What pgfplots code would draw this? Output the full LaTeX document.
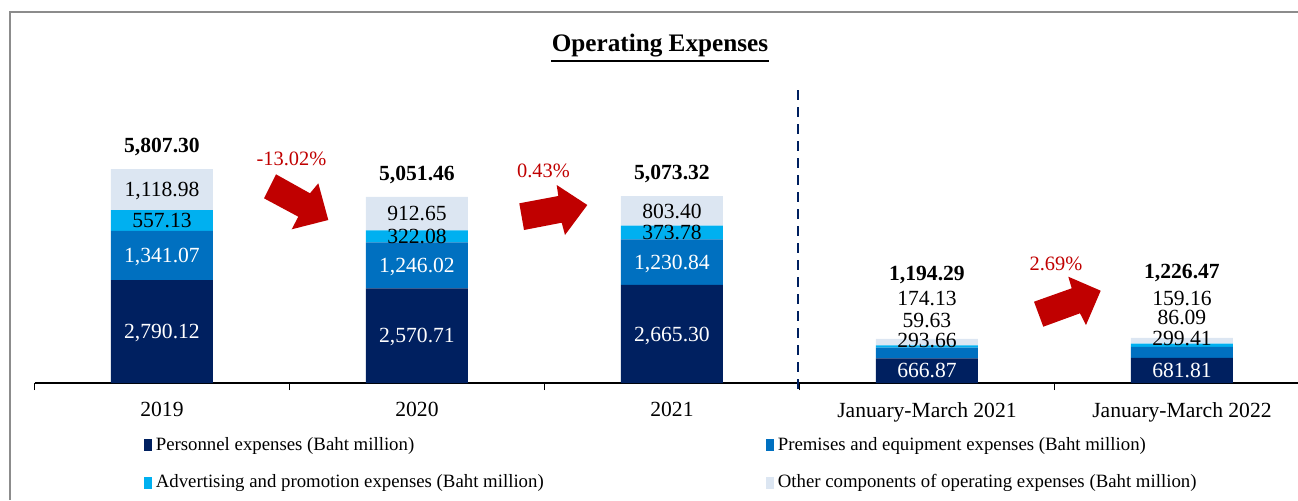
\documentclass[border=0pt]{standalone}
\usepackage{fontspec}
\setmainfont{Liberation Serif}
\usepackage{pgfplots}
\pgfplotsset{compat=1.18}
\definecolor{navy}{HTML}{002060}
\definecolor{midblue}{HTML}{0070C0}
\definecolor{cyanb}{HTML}{00B0F0}
\definecolor{lightb}{HTML}{DCE6F2}
\definecolor{redarr}{HTML}{C00000}
\definecolor{framegray}{HTML}{8C8C8C}
\newcommand{\lbl}[4]{\node[font=\fontsize{10.8pt}{12pt}\selectfont, text=#4, text depth=0pt] at (axis cs:#1,#2) {#3};}
\newcommand{\tot}[3]{\node[font=\bfseries\fontsize{10.8pt}{12pt}\selectfont, text depth=0pt] at (axis cs:#1,#2) {#3};}
\newcommand{\alllabels}{%
\lbl{0}{1395.06}{2,790.12}{white}
\lbl{0}{3460.66}{1,341.07}{white}
\lbl{0}{4409.76}{557.13}{black}
\lbl{0}{5247.81}{1,118.98}{black}
\tot{0}{6458}{5,807.30}
\lbl{1}{1285.36}{2,570.71}{white}
\lbl{1}{3193.72}{1,246.02}{white}
\lbl{1}{3977.77}{322.08}{black}
\lbl{1}{4595.14}{912.65}{black}
\tot{1}{5702}{5,051.46}
\lbl{2}{1332.65}{2,665.30}{white}
\lbl{2}{3280.72}{1,230.84}{white}
\lbl{2}{4083.03}{373.78}{black}
\lbl{2}{4671.62}{803.40}{black}
\tot{2}{5724}{5,073.32}
\lbl{3}{333.4}{666.87}{white}
\lbl{3}{1167}{293.66}{black}
\lbl{3}{1710}{59.63}{black}
\lbl{3}{2307}{174.13}{black}
\tot{3}{2985}{1,194.29}
\lbl{4}{340.9}{681.81}{white}
\lbl{4}{1221}{299.41}{black}
\lbl{4}{1791}{86.09}{black}
\lbl{4}{2307}{159.16}{black}
\tot{4}{3039}{1,226.47}}
\begin{document}
\begin{tikzpicture}
\path[use as bounding box] (0,0) rectangle (649pt,250pt);
\begin{axis}[
  at={(17.25pt,58.5pt)}, anchor=south west,
  scale only axis, width=631.75pt, height=185.5pt,
  xmin=-0.5, xmax=4.455, ymin=0, ymax=10067.8,
  axis x line=bottom, axis y line=none,
  axis line style={-, line width=0.8pt, black},
  ybar stacked, bar width=51pt,
  xtick={0,1,2,3,4},
  xticklabels={2019,2020,2021,January-March 2021,January-March 2022},
  major tick length=0pt,
  extra x ticks={-0.5,0.5,1.5,2.5,3.5}, extra x tick labels={},
  extra x tick style={major tick length=3.5pt, tick align=outside, tick style={line width=0.5pt, black}},
  xticklabel style={font=\fontsize{10.8pt}{12pt}\selectfont, yshift=-6pt},
  clip=false,
  legend columns=2,
  legend cell align=left,
  legend image code/.code={\fill[#1] (0pt,-3pt) rectangle (4pt,3pt);},
  legend style={draw=none, fill=none, at={(0.0862,-0.1349)}, anchor=north west,
    font=\fontsize{9.4pt}{11pt}\selectfont, row sep=6.5pt, inner sep=0pt},
  after end axis/.code={\alllabels},
]
\addplot[fill=navy, draw=none] coordinates {(0,2790.12) (1,2570.71) (2,2665.30) (3,666.87) (4,681.81)};
\addlegendentry{\makebox[303pt][l]{Personnel expenses (Baht million)}}
\addplot[fill=midblue, draw=none] coordinates {(0,1341.07) (1,1246.02) (2,1230.84) (3,293.66) (4,299.41)};
\addlegendentry{Premises and equipment expenses (Baht million)}
\addplot[fill=cyanb, draw=none] coordinates {(0,557.13) (1,322.08) (2,373.78) (3,59.63) (4,86.09)};
\addlegendentry{\makebox[303pt][l]{Advertising and promotion expenses (Baht million)}}
\addplot[fill=lightb, draw=none] coordinates {(0,1118.98) (1,912.65) (2,803.40) (3,174.13) (4,159.16)};
\addlegendentry{Other components of operating expenses (Baht million)}
\end{axis}
\begin{scope}[x=0.5pt,y=-0.5pt,yshift=250pt]
\draw[framegray, line width=1pt] (10,500) -- (10,12) -- (1298,12);
\node[anchor=base, inner sep=0pt, font=\bfseries\fontsize{12.6pt}{14pt}\selectfont] (t) at (660,51.5) {Operating Expenses};
\draw[line width=1pt] ([yshift=-4.6pt]t.base west) -- ([yshift=-4.6pt]t.base east);
\draw[navy, line width=1.2pt, dash pattern=on 5pt off 3.5pt] (798,90) -- (798,390);
\fill[redarr] (264,198.3) -- (276,174.3) -- (310,193.3) -- (318.3,183.3) -- (328.3,220) -- (291.7,229.3) -- (298.3,216.7) -- cycle;
\fill[redarr] (519.3,203.3) -- (558.3,196) -- (556.7,185) -- (587.3,205) -- (565,235) -- (561.7,222.7) -- (524,230) -- cycle;
\fill[redarr] (1034,301.7) -- (1071.7,288.3) -- (1068.3,276.7) -- (1100.7,290.7) -- (1086,325) -- (1080,313.3) -- (1043.3,326.7) -- cycle;
\node[anchor=base, text=redarr, font=\fontsize{10.2pt}{12pt}\selectfont] at (291.5,165) {-13.02\%};
\node[anchor=base, text=redarr, font=\fontsize{10.2pt}{12pt}\selectfont] at (543.5,177) {0.43\%};
\node[anchor=base, text=redarr, font=\fontsize{10.2pt}{12pt}\selectfont] at (1056,270) {2.69\%};
\end{scope}
\end{tikzpicture}
\end{document}
